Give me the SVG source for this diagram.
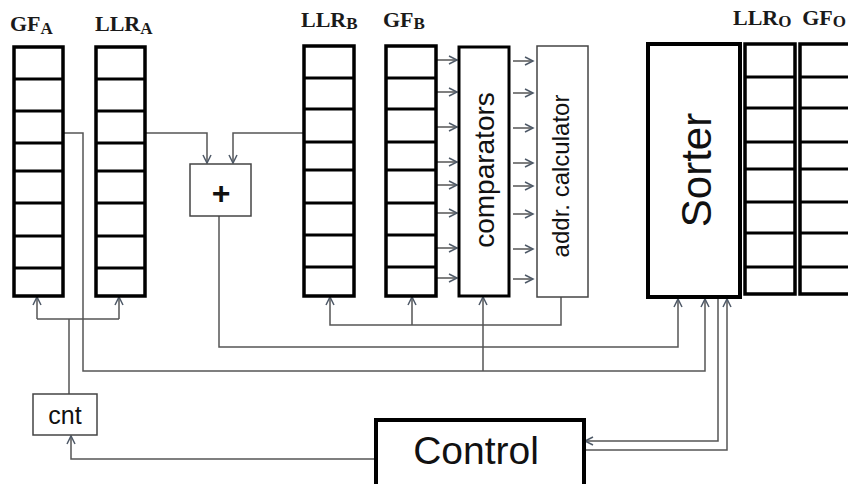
<svg xmlns="http://www.w3.org/2000/svg" width="848" height="484" viewBox="0 0 848 484">
<defs>
<marker id="ah" markerUnits="userSpaceOnUse" markerWidth="12" markerHeight="12" viewBox="-10 -6 12 12" refX="0" refY="0" orient="auto">
<path d="M-8,-4 L0,0 L-8,4" fill="none" stroke="#4f5a68" stroke-width="1.5"/>
</marker>
<style>
.reg{fill:#fff;stroke:#000;stroke-width:3.5}
.row{stroke:#000;stroke-width:3}
.thin{fill:#fff;stroke:#444;stroke-width:1.5}
.thick{fill:#fff;stroke:#000;stroke-width:4}
.w{fill:none;stroke:#555;stroke-width:1.5}
.a{fill:none;stroke:#555;stroke-width:1.5;marker-end:url(#ah)}
.lbl{font-family:"Liberation Serif",serif;font-weight:bold;font-size:22px;fill:#1a1a1a}
.sub{font-size:17px}
.sans{font-family:"Liberation Sans",Arial,sans-serif;fill:#111}
</style>
</defs>
<rect width="848" height="484" fill="#fff"/>

<g id="connectors">
<path class="a" d="M63,133 H83 V371 H705 V299"/>
<path class="a" d="M483,371 V297"/>
<path class="a" d="M145,133 H207 V163"/>
<path class="a" d="M304,133 H233 V163"/>
<path class="a" d="M219,216 V347 H678 V299"/>
<path class="a" d="M561,297 V325 H330 V297"/>
<path class="a" d="M412,325 V297"/>
<path class="w" d="M69,394 V319"/>
<path class="w" d="M37,319 H119"/>
<path class="a" d="M37,319 V297"/>
<path class="a" d="M119,319 V297"/>
<path class="a" d="M375,459 H71 V436"/>
<path class="a" d="M718,299 V441 H585"/>
<path class="a" d="M585,450 H727 V299"/>
<path class="a" d="M437,60 H457"/>
<path class="a" d="M437,92 H457"/>
<path class="a" d="M437,127 H457"/>
<path class="a" d="M437,162 H457"/>
<path class="a" d="M437,185 H457"/>
<path class="a" d="M437,213 H457"/>
<path class="a" d="M437,248 H457"/>
<path class="a" d="M437,278 H457"/>
<path class="a" d="M513,61 H533"/>
<path class="a" d="M513,93 H533"/>
<path class="a" d="M513,128 H533"/>
<path class="a" d="M513,163 H533"/>
<path class="a" d="M513,186 H533"/>
<path class="a" d="M513,214 H533"/>
<path class="a" d="M513,249 H533"/>
<path class="a" d="M513,279 H533"/>
</g>

<g id="GF_A">
<text class="lbl" x="10" y="31">GF<tspan class="sub" dy="3">A</tspan></text>
<rect class="reg" x="14" y="47" width="49" height="249"/>
<path class="row" d="M14,79H63M14,111H63M14,143H63M14,171H63M14,203H63M14,236H63M14,268H63"/>
</g>
<g id="LLR_A">
<text class="lbl" x="95" y="31">LLR<tspan class="sub" dy="3">A</tspan></text>
<rect class="reg" x="96" y="47" width="49" height="249"/>
<path class="row" d="M96,79H145M96,111H145M96,143H145M96,171H145M96,203H145M96,236H145M96,268H145"/>
</g>
<g id="adder">
<rect class="thin" x="190" y="164" width="61" height="52"/>
<text class="sans" x="221" y="204" font-size="32" font-weight="bold" text-anchor="middle">+</text>
</g>
<g id="LLR_B">
<text class="lbl" x="301" y="27">LLR<tspan class="sub" dy="2">B</tspan></text>
<rect class="reg" x="304" y="46" width="50" height="250"/>
<path class="row" d="M304,78H354M304,109H354M304,142H354M304,170H354M304,203H354M304,235H354M304,267H354"/>
</g>
<g id="GF_B">
<text class="lbl" x="383" y="27">GF<tspan class="sub" dy="2">B</tspan></text>
<rect class="reg" x="386" y="46" width="50" height="250"/>
<path class="row" d="M386,78H436M386,109H436M386,142H436M386,170H436M386,203H436M386,235H436M386,267H436"/>
</g>
<g id="comparators">
<rect x="459" y="47" width="50" height="249" fill="#fff" stroke="#000" stroke-width="3"/>
<text class="sans" transform="translate(494,170) rotate(-90)" font-size="28" text-anchor="middle">comparators</text>
</g>
<g id="addr_calculator">
<rect class="thin" x="537" y="46" width="51" height="251"/>
<text class="sans" transform="translate(569,176) rotate(-90)" font-size="24" text-anchor="middle">addr. calculator</text>
</g>
<g id="Sorter">
<rect class="thick" x="648" y="44" width="92" height="253"/>
<text class="sans" transform="translate(711,170) rotate(-90)" font-size="42" text-anchor="middle">Sorter</text>
</g>
<g id="LLR_O">
<text class="lbl" x="733" y="25">LLR<tspan class="sub" dy="2">O</tspan></text>
<rect class="reg" x="745" y="44" width="50" height="250"/>
<path class="row" d="M745,77H795M745,108H795M745,142H795M745,169H795M745,202H795M745,233H795M745,267H795"/>
</g>
<g id="GF_O">
<text class="lbl" x="846" y="25" text-anchor="end">GF<tspan class="sub" dy="2">O</tspan></text>
<rect class="reg" x="800" y="44" width="56" height="250"/>
<path class="row" d="M800,77H856M800,108H856M800,142H856M800,169H856M800,202H856M800,233H856M800,267H856"/>
</g>
<g id="cnt">
<rect class="thin" x="33" y="394" width="64" height="41"/>
<text class="sans" x="65" y="424" font-size="25" text-anchor="middle">cnt</text>
</g>
<g id="Control">
<rect class="thick" x="376" y="420" width="208" height="66"/>
<text class="sans" x="476" y="464" font-size="39" text-anchor="middle">Control</text>
</g>
</svg>
